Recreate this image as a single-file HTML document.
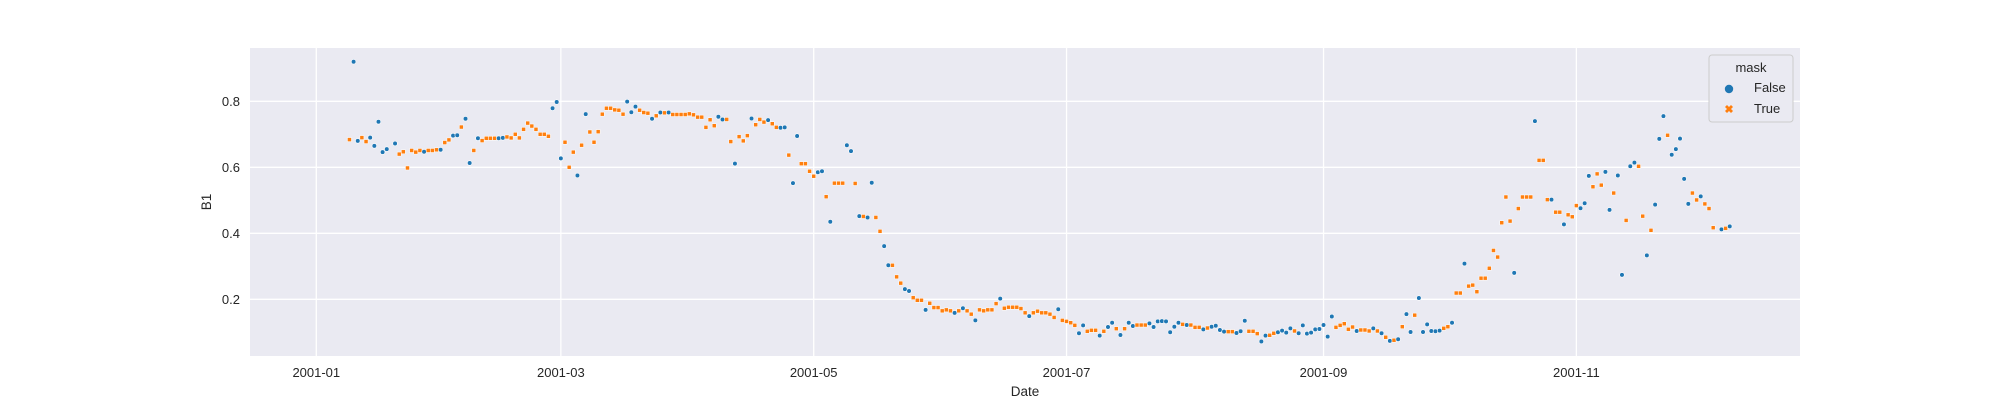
<!DOCTYPE html>
<html><head><meta charset="utf-8"><style>
html,body{margin:0;padding:0;background:#fff;}
svg{display:block;font-family:"Liberation Sans",Arial,sans-serif;}
</style></head><body>
<svg id="chart" width="2000" height="400" viewBox="0 0 2000 400" xmlns="http://www.w3.org/2000/svg">
<rect x="250" y="48" width="1550" height="308" fill="#eaeaf2"/>
<g id="grid"></g>
<g id="xticks"></g>
<g id="yticks"></g>
<g id="marks"></g>
<text x="1025" y="396" font-size="13.5" fill="#262626" text-anchor="middle">Date</text>
<text transform="translate(211,202) rotate(-90)" font-size="13.5" fill="#262626" text-anchor="middle">B1</text>
<g>
<rect x="1709" y="55" width="84" height="67" rx="3" fill="#eaeaf2" stroke="#cccccc" stroke-width="1"/>
<text x="1751" y="72" font-size="13" fill="#262626" text-anchor="middle">mask</text>
<circle cx="1729" cy="89" r="4.2" fill="#1f77b4"/>
<text x="1754" y="92" font-size="13" fill="#262626">False</text>
<path d="M1725,107 l2,-2 l2,2 l2,-2 l2,2 l-2,2 l2,2 l-2,2 l-2,-2 l-2,2 l-2,-2 l2,-2z" fill="#ff7f0e"/>
<text x="1754" y="113" font-size="13" fill="#262626">True</text>
</g>
</svg>
<script>
const days=[8,9,10,11,12,13,14,15,16,17,19,20,21,22,23,24,25,26,27,28,29,30,31,32,33,34,35,36,37,38,39,40,41,42,43,44,45,46,47,48,49,50,51,52,53,54,55,56,57,58,59,60,61,62,63,64,65,66,67,68,69,70,71,72,73,74,75,76,77,78,79,80,81,82,83,84,85,86,87,88,89,90,91,92,93,94,95,96,97,98,99,100,101,102,103,104,105,106,107,108,109,110,111,112,113,114,115,116,117,118,119,120,121,122,123,124,125,126,127,128,129,130,131,132,133,134,135,136,137,138,139,140,141,142,143,144,145,146,147,148,149,150,151,152,153,154,155,156,157,158,159,160,161,162,163,164,165,166,167,168,169,170,171,172,173,174,175,176,177,178,179,180,181,182,183,184,185,186,187,188,189,190,191,192,193,194,195,196,197,198,199,200,201,202,203,204,205,206,207,208,209,210,211,212,213,214,215,216,217,218,219,220,221,222,223,224,225,226,227,228,229,230,231,232,233,234,235,236,237,238,239,240,241,242,243,244,245,246,247,248,249,250,251,252,253,254,255,256,257,258,259,260,261,262,263,264,265,266,267,268,269,270,271,272,273,274,275,276,277,278,279,280,281,282,283,284,285,286,287,288,289,290,291,292,293,294,295,296,297,298,299,300,301,302,303,304,305,306,307,308,309,310,311,312,313,314,315,316,317,318,319,320,321,322,323,324,325,326,327,328,329,330,331,332,333,334,335,336,337,339,340,341];
const values=[0.684,0.92,0.680,0.690,0.678,0.690,0.665,0.738,0.646,0.655,0.672,0.640,0.647,0.598,0.651,0.646,0.651,0.647,0.651,0.651,0.653,0.653,0.675,0.683,0.696,0.697,0.722,0.747,0.613,0.651,0.688,0.681,0.688,0.688,0.688,0.688,0.689,0.692,0.689,0.700,0.689,0.715,0.734,0.725,0.715,0.700,0.700,0.694,0.779,0.798,0.627,0.676,0.600,0.646,0.575,0.667,0.761,0.707,0.676,0.708,0.761,0.779,0.779,0.774,0.773,0.761,0.799,0.767,0.784,0.773,0.766,0.764,0.747,0.756,0.766,0.765,0.766,0.760,0.760,0.760,0.760,0.762,0.759,0.752,0.752,0.721,0.744,0.726,0.753,0.745,0.745,0.678,0.611,0.693,0.680,0.696,0.748,0.729,0.745,0.737,0.743,0.732,0.721,0.720,0.721,0.637,0.552,0.695,0.611,0.611,0.588,0.573,0.585,0.588,0.511,0.435,0.552,0.552,0.552,0.667,0.649,0.551,0.452,0.451,0.448,0.553,0.448,0.406,0.361,0.303,0.303,0.268,0.249,0.231,0.225,0.205,0.197,0.197,0.168,0.188,0.175,0.175,0.165,0.168,0.165,0.159,0.165,0.173,0.165,0.155,0.136,0.168,0.165,0.168,0.168,0.187,0.202,0.173,0.176,0.176,0.176,0.172,0.159,0.149,0.159,0.164,0.159,0.159,0.155,0.145,0.170,0.136,0.133,0.129,0.121,0.097,0.121,0.103,0.106,0.106,0.090,0.103,0.116,0.129,0.111,0.092,0.111,0.129,0.119,0.122,0.122,0.122,0.127,0.116,0.133,0.134,0.133,0.100,0.117,0.129,0.124,0.122,0.122,0.115,0.115,0.109,0.113,0.117,0.120,0.107,0.102,0.102,0.102,0.098,0.103,0.135,0.103,0.103,0.096,0.072,0.090,0.091,0.097,0.100,0.105,0.099,0.112,0.104,0.097,0.121,0.096,0.099,0.109,0.110,0.122,0.087,0.148,0.115,0.121,0.126,0.109,0.116,0.104,0.107,0.107,0.104,0.112,0.104,0.097,0.085,0.074,0.076,0.079,0.117,0.155,0.101,0.152,0.204,0.101,0.124,0.104,0.103,0.105,0.112,0.117,0.129,0.219,0.219,0.308,0.240,0.243,0.223,0.264,0.264,0.294,0.348,0.328,0.432,0.510,0.437,0.280,0.475,0.510,0.510,0.510,0.740,0.621,0.621,0.502,0.502,0.464,0.464,0.427,0.456,0.450,0.484,0.476,0.491,0.574,0.541,0.580,0.546,0.586,0.471,0.522,0.575,0.274,0.439,0.603,0.614,0.603,0.452,0.333,0.409,0.487,0.686,0.755,0.697,0.638,0.655,0.687,0.565,0.489,0.522,0.501,0.512,0.489,0.475,0.417,0.412,0.415,0.421];
const masks="TFFTTFFFFF"+"FTTTTTTFTTTF"+"TTFFTFFTFT"+"TTTFFTTTTT"+"TTTTTTFFFT"+"TTFTFTTTTT"+"TTTTFFFTTT"+"FTFTFTTTTT"+"TTTTTTFFTT"+"FTTTFTTTFT"+"TFFTFFTTTT"+"FFTFTTTFFT"+"FTFFTTFFTT"+"TFFTTTFTTT"+"TTTFTFTTFT"+"TTTTFTTTTT"+"TFTTTTTTFT"+"TTTFFTTTFT"+"FFTFTFFTTT"+"FFFFFFFFTF"+"TTTFTFFFFT"+"TFFFTTTFFT"+"TFFFFTFFFF"+"FFFFFTTTTT"+"FTTTFTFTFT"+"FTFFTFFFFF"+"FTTFTTFTTT"+"TTTTTTTTFT"+"TTTFTTTFTT"+"FTTTFFFTTT"+"FFTFFTFFTT"+"FTFFFTFFFF"+"FTTFTTT"+"FTF";
const yTicks=[0.2,0.4,0.6,0.8];
const yTickLabels=["0.2","0.4","0.6","0.8"];
const xTickDays=[0,59,120,181,243,304];
const xTickLabels=["2001-01","2001-03","2001-05","2001-07","2001-09","2001-11"];

const X0=316.3, PXD=4.145;
function xs(d){return X0+d*PXD;}
function ys(v){return 101.3+(0.8-v)*330;}
const NS="http://www.w3.org/2000/svg";
function mk(tag,attrs,parent){const e=document.createElementNS(NS,tag);for(const k in attrs)e.setAttribute(k,attrs[k]);parent.appendChild(e);return e;}
const grid=document.getElementById('grid'),xt=document.getElementById('xticks'),yt=document.getElementById('yticks'),marks=document.getElementById('marks');
yTicks.forEach((v,i)=>{
  const l=mk('line',{x1:250,x2:1800,y1:ys(v),y2:ys(v),stroke:'#fff','stroke-width':1.3},grid);
  
  
  const t=mk('text',{x:240,y:ys(v)+4.5,'font-size':13,fill:'#262626','text-anchor':'end'},yt);
  t.textContent=yTickLabels[i];
  
  
});
xTickDays.forEach((d,i)=>{
  const l=mk('line',{x1:xs(d),x2:xs(d),y1:48,y2:356,stroke:'#fff','stroke-width':1.3},grid);
  
  
  const t=mk('text',{x:xs(d),y:377,'font-size':13,fill:'#262626','text-anchor':'middle'},xt);
  t.textContent=xTickLabels[i];
  
  
});
days.forEach((d,i)=>{
  const x=xs(d),y=ys(values[i]);
  if(masks[i]==='F'){
    const c=mk('circle',{cx:x,cy:y,r:2.3,fill:'#1f77b4',stroke:'#fff','stroke-width':0.6},marks);
    
    
  }else{
    const p=mk('rect',{x:x-2,y:y-2,width:4,height:4,fill:'#ff7f0e',stroke:'#fff','stroke-width':0.5},marks);
    
    
  }
});
</script>
</body></html>
